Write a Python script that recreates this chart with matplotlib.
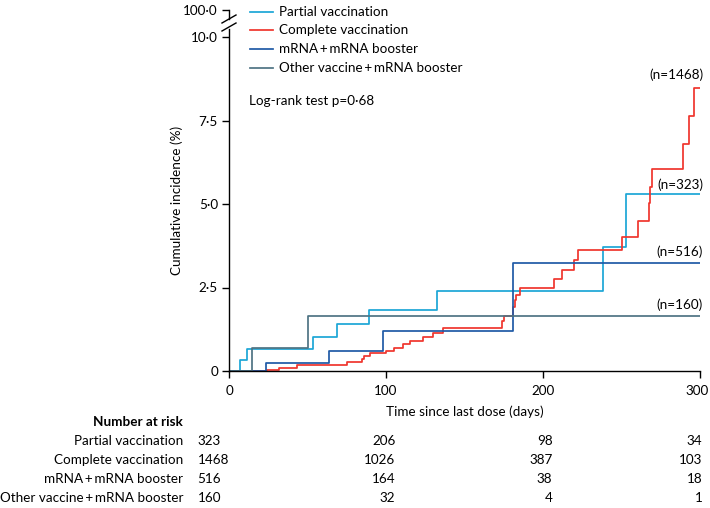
import numpy as np
import matplotlib.pyplot as plt
from matplotlib.lines import Line2D
from matplotlib.transforms import blended_transform_factory, ScaledTranslation

plt.rcParams['font.family'] = ['Lato', 'DejaVu Sans']
plt.rcParams['font.size'] = 9.7

W, H = 710, 508

# step curves: time since last dose (days), cumulative incidence (%)
partial_t = [0, 7, 11.3, 53.3, 68.6, 89.2, 132.3, 238, 252.9, 300]
partial_y = [0, 0.33, 0.65, 1.01, 1.41, 1.83, 2.40, 3.72, 5.29, 5.29]

complete_t = [0, 24, 32, 43.5, 75, 84.6, 86, 89.8, 99.8, 105.3, 111, 115.3, 123.8,
              129.7, 136.1, 174.1, 175.3, 181.1, 182, 183, 185.1, 207.2, 211.9,
              219.7, 222, 250.1, 260.3, 267.5, 268.2, 269.2, 289.4, 293.2, 296.2, 300]
complete_y = [0, 0.03, 0.08, 0.17, 0.26, 0.37, 0.45, 0.53, 0.61, 0.70, 0.81, 0.91, 1.01,
              1.15, 1.28, 1.50, 1.66, 1.93, 2.13, 2.28, 2.49, 2.75, 3.02,
              3.32, 3.62, 4.02, 4.49, 5.02, 5.52, 6.05, 6.81, 7.63, 8.48, 8.48]

mrna_t = [0, 23.4, 63.7, 97.9, 181.1, 300]
mrna_y = [0, 0.25, 0.60, 1.21, 3.24, 3.24]

other_t = [0, 14.9, 50.1, 300]
other_y = [0, 0.70, 1.65, 1.65]

groups = ['Partial vaccination', 'Complete vaccination',
          'mRNA\u2009+\u2009mRNA booster', 'Other vaccine\u2009+\u2009mRNA booster']
colors = ['#1ba6d6', '#f0352d', '#1f5aa6', '#4e7383']
n_labels = ['(n=323)', '(n=1468)', '(n=516)', '(n=160)']

risk_days = [0, 100, 200, 300]
risk_partial = [323, 206, 98, 34]
risk_complete = [1468, 1026, 387, 103]
risk_mrna = [516, 164, 38, 18]
risk_other = [160, 32, 4, 1]

curves = [(partial_t, partial_y), (complete_t, complete_y),
          (mrna_t, mrna_y), (other_t, other_y)]
risks = [risk_partial, risk_complete, risk_mrna, risk_other]


def fx(px):
    return px / W


def fy(py):
    return 1 - py / H


fig = plt.figure(figsize=(W / 100, H / 100), dpi=100)

# main axes: x 0->229px, 300->700px ; y 0->371px, 10->37px
y0_px, per_unit = 371, 33.4
ytop = 10.23
ax = fig.add_axes([fx(229), fy(y0_px), (700 - 229) / W, ytop * per_unit / H])
for (t, y), c in zip(curves, colors):
    ax.step(t, y, where='post', color=c, lw=1.25)

ax.set_xlim(0, 300)
ax.set_ylim(0, ytop)
ax.set_xticks([0, 100, 200, 300])
ax.set_yticks([0, 2.5, 5, 7.5, 10])
ax.set_yticklabels(['0', '2\u00b75', '5\u00b70', '7\u00b75', '10\u00b70'])
for s in ['top', 'right']:
    ax.spines[s].set_visible(False)
for s in ['left', 'bottom']:
    ax.spines[s].set_linewidth(1.0)
ax.tick_params(length=5, width=1.0, pad=3)
ax.tick_params(axis='x', pad=5)
# keep the last x tick label inside the canvas
lbl = ax.get_xticklabels()[-1]
lbl.set_transform(lbl.get_transform() + ScaledTranslation(-3 / 100, 0, fig.dpi_scale_trans))
ax.set_xlabel('Time since last dose (days)', labelpad=6)
ax.set_ylabel('Cumulative incidence (%)', labelpad=6)

# n labels at the curve ends
n_pos = [185, 75, 252, 305]
for lab, py in zip(n_labels, n_pos):
    fig.text(fx(703), fy(py), lab, ha='right', va='center')

# upper stub of broken axis with 100 tick
ax2 = fig.add_axes([fx(229), fy(19), 0.0001, 9 / H])
ax2.set_ylim(99.0, 100)
ax2.set_yticks([100])
ax2.set_yticklabels(['100\u00b70'])
ax2.set_xticks([])
for s in ['top', 'right', 'bottom']:
    ax2.spines[s].set_visible(False)
ax2.spines['left'].set_linewidth(1.0)
ax2.tick_params(length=5, width=1.0, pad=3)
ax2.patch.set_visible(False)

# break marks
for yb in (23, 31):
    fig.add_artist(Line2D([fx(222), fx(236)], [fy(yb), fy(yb - 8)],
                          color='black', lw=1.0))

# legend
leg_y = [12, 30, 49, 68]
for g, c, py in zip(groups, colors, leg_y):
    fig.add_artist(Line2D([fx(250), fx(273)], [fy(py), fy(py)], color=c, lw=1.25))
    fig.text(fx(279), fy(py), g, ha='left', va='center')

fig.text(fx(249), fy(101), 'Log-rank test p=0\u00b768', ha='left', va='center')

# number at risk table
tr = blended_transform_factory(ax.transData, fig.transFigure)
fig.text(fx(183), fy(422), 'Number at risk', ha='right', va='center', fontweight='bold')
row_y = [441, 460, 479, 498]
col_x = [-20, 106, 206, 301.5]
for g, r, py in zip(groups, risks, row_y):
    fig.text(fx(183), fy(py), g, ha='right', va='center')
    for cx, v in zip(col_x, r):
        ha = 'left' if cx < 0 else 'right'
        ax.text(cx, fy(py), str(v), ha=ha, va='center', transform=tr)

fig.savefig('out.png', dpi=100)
